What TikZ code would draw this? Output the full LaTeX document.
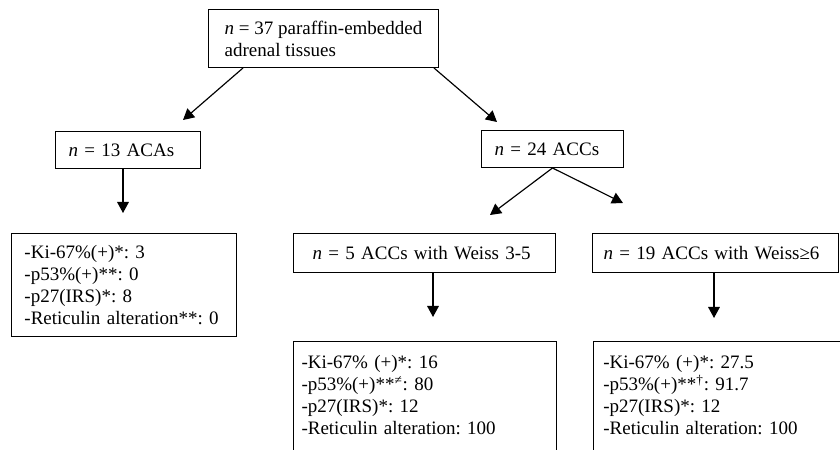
\documentclass[tikz,border=0pt]{standalone}
\usepackage{fontspec}
\setmainfont{Liberation Serif}
\frenchspacing
\usetikzlibrary{arrows.meta, positioning}
\tikzset{
  every picture/.style={font=\fontsize{11.4pt}{13.2pt}\selectfont, line width=0.6pt},
  box/.style={draw=black, anchor=north west, align=left, inner ysep=0pt},
  arrow/.style={-{Triangle[length=6.6pt, width=7pt]}, draw=black, line width=0.7pt},
}

\begin{document}
\begin{tikzpicture}[x=0.6pt, y=-0.6pt]
  \clip (0,0) rectangle (840,450);
  % first level
  \node[box, minimum width=138pt, minimum height=34.8pt] (all) at (208,9)
    {\textit{n} = 37 paraffin-embedded\\adrenal tissues};
  \node[box, text width=71.4pt, inner xsep=7.8pt, minimum height=22.2pt] (aca) at (55,131)
    {\textit{n} = 13 ACAs};
  \node[box, text width=69.6pt, inner xsep=7.8pt, minimum height=22.2pt] (acc) at (481,130)
    {\textit{n} = 24 ACCs};
  \node[box, text width=119.4pt, inner xsep=7.8pt, minimum height=61.8pt] (acares) at (11,233)
    {-Ki-67\%(+)*: 3\\-p53\%(+)**: 0\\-p27(IRS)*: 8\\-Reticulin alteration**: 0};
  % Weiss groups
  \node[box, text width=134.4pt, inner xsep=11.4pt, minimum height=23.4pt] (weissA) at (293,233)
    {\textit{n} = 5 ACCs with Weiss 3-5};
  \node[box, text width=134.4pt, inner xsep=6.6pt, minimum height=23.4pt] (weissB) at (592,233)
    {\textit{n} = 19 ACCs with Weiss≥6};
  \node[box, text width=148.2pt, inner xsep=4.8pt, inner ysep=8.4pt] (resA) at (293,341)
    {-Ki-67\% (+)*: 16\\-p53\%(+)**\textsuperscript{≠}: 80\\-p27(IRS)*: 12\\-Reticulin alteration: 100\\\strut};
  \node[box, text width=148.2pt, inner xsep=4.8pt, inner ysep=8.4pt, minimum width=160pt] (resB) at (593,341)
    {-Ki-67\% (+)*: 27.5\\-p53\%(+)**\textsuperscript{†}: 91.7\\-p27(IRS)*: 12\\-Reticulin alteration: 100\\\strut};
  % arrow tips
  \coordinate (tA) at (183,120);
  \coordinate (tB) at (497,122);
  \coordinate (tC) at (123,213);
  \coordinate (tD) at (490,215);
  \coordinate (tE) at (623,203);
  \coordinate (tF) at (433,317);
  \coordinate (tG) at (714,318);
  \draw[arrow] ([xshift=21pt]all.south west) -- (tA);
  \draw[arrow] ([xshift=-3pt]all.south east) -- (tB);
  \draw[arrow] (aca.south -| tC) -- (tC);
  \draw[arrow] (acc.south) -- (tD);
  \draw[arrow] (acc.south) -- (tE);
  \draw[arrow] (weissA.south -| tF) -- (tF);
  \draw[arrow] (weissB.south -| tG) -- (tG);
\end{tikzpicture}
\end{document}
